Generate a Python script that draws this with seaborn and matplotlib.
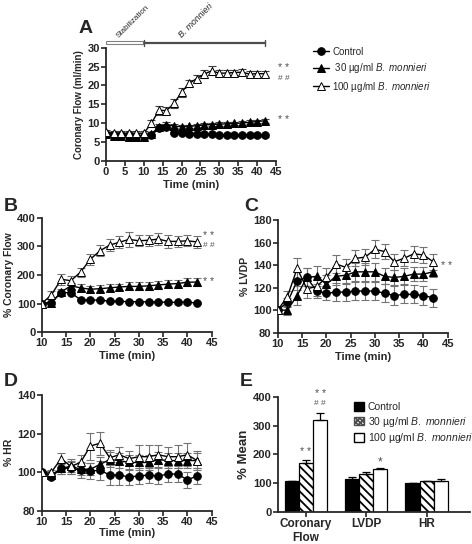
import matplotlib
matplotlib.use("Agg")
import matplotlib.pyplot as plt
from matplotlib.patches import Patch, Rectangle
from matplotlib.lines import Line2D
import seaborn as sns
import pandas as pd
import numpy as np

# ---- data ----
groups = ["Control", "30 µg/ml B. monnieri", "100 µg/ml B. monnieri"]

# A: absolute coronary flow (ml/min), 0-42 min
t_a = list(range(0, 43, 2))
a_ctrl = [7.2, 6.9, 6.8, 6.7, 6.6, 6.6, 6.9, 8.6, 8.9, 7.4, 7.3, 7.2, 7.1, 7.0, 7.0, 6.9, 6.9, 6.8, 6.8, 6.7, 6.7, 6.7]
a_30 = [7.0, 6.6, 6.5, 6.3, 6.2, 6.2, 7.1, 9.0, 9.6, 9.2, 9.0, 9.1, 9.3, 9.5, 9.6, 9.7, 9.8, 9.9, 10.0, 10.2, 10.4, 10.6]
a_100 = [7.5, 7.4, 7.3, 7.3, 7.3, 7.3, 9.9, 13.4, 13.3, 15.2, 18.2, 20.5, 21.8, 23.0, 23.9, 23.2, 23.3, 23.4, 23.5, 23.0, 23.1, 23.1]
a_ctrl_err = [0.3, 0.3, 0.3, 0.3, 0.3, 0.3, 0.3, 0.5, 0.5, 0.3, 0.3, 0.3, 0.3, 0.3, 0.3, 0.3, 0.3, 0.3, 0.3, 0.3, 0.3, 0.3]
a_30_err = [0.4, 0.4, 0.4, 0.4, 0.4, 0.4, 0.5, 0.8, 0.8, 0.5, 0.5, 0.5, 0.5, 0.5, 0.5, 0.5, 0.5, 0.5, 0.5, 0.5, 0.5, 0.5]
a_100_err = [0.6, 0.5, 0.5, 0.5, 0.5, 0.5, 1.0, 1.2, 1.0, 1.2, 1.2, 1.0, 1.0, 1.0, 1.2, 0.8, 0.8, 0.8, 0.8, 0.8, 0.8, 0.8]

# B-D: % of baseline, 10-42 min
t_p = list(range(10, 43, 2))
b_ctrl = [100, 103, 138, 138, 113, 112, 112, 108, 108, 106, 106, 106, 105, 104, 104, 104, 102]
b_30 = [100, 103, 140, 162, 155, 150, 152, 155, 158, 160, 160, 162, 165, 168, 170, 175, 175]
b_100 = [100, 130, 185, 180, 210, 255, 285, 305, 315, 325, 320, 322, 326, 318, 318, 320, 316]
b_ctrl_err = [0, 3, 6, 6, 4, 4, 4, 4, 4, 4, 4, 4, 4, 4, 4, 4, 4]
b_30_err = [0, 5, 10, 10, 12, 12, 12, 12, 12, 14, 14, 14, 14, 14, 14, 14, 14]
b_100_err = [0, 14, 20, 15, 16, 20, 20, 22, 22, 26, 20, 20, 22, 22, 20, 20, 20]

c_ctrl = [100, 107, 126, 129, 117, 115, 116, 116, 117, 117, 117, 115, 113, 114, 114, 113, 111]
c_30 = [100, 100, 113, 129, 130, 123, 130, 131, 134, 134, 134, 130, 129, 130, 132, 132, 134]
c_100 = [100, 112, 137, 119, 121, 129, 141, 138, 146, 147, 154, 152, 143, 146, 150, 149, 143]
c_ctrl_err = [0, 4, 8, 8, 6, 6, 8, 8, 8, 8, 8, 8, 8, 8, 8, 8, 8]
c_30_err = [0, 4, 8, 8, 9, 8, 8, 8, 8, 8, 8, 7, 7, 7, 6, 6, 5]
c_100_err = [0, 5, 9, 8, 8, 8, 8, 7, 7, 7, 8, 7, 7, 7, 7, 7, 7]

d_ctrl = [100, 97.5, 102, 102, 101, 100.5, 101, 98.5, 98.5, 97.5, 98, 98.5, 98, 99, 99, 96, 98]
d_30 = [100, 98.5, 102, 103, 101.5, 101.5, 104, 106.5, 106, 105, 105, 105, 106.5, 106, 106, 106, 106]
d_100 = [100, 100, 107, 103, 105, 113.5, 115, 107.5, 109, 107, 108, 108, 109, 108, 108, 109, 106]
d_ctrl_err = [0, 1, 3, 3, 4, 4, 5, 5, 5, 4, 4, 4, 4, 4, 4, 4, 4]
d_30_err = [0, 1, 3, 3, 3, 3, 4, 4, 4, 4, 4, 4, 4, 4, 4, 4, 4]
d_100_err = [0, 1, 3, 4, 4, 7, 6, 4, 4, 4, 6, 6, 5, 5, 6, 6, 5]

# E: mean % values
measures = ["Coronary\nFlow", "LVDP", "HR"]
e_ctrl = [107, 116, 100]
e_30 = [170, 133, 107]
e_100 = [322, 148, 109]
e_ctrl_err = [2, 7, 2]
e_30_err = [12, 5, 2]
e_100_err = [22, 6, 4]

# ---- style ----
sns.set_style("ticks")
plt.rcParams["font.family"] = ["Liberation Sans", "DejaVu Sans"]
plt.rcParams["mathtext.fontset"] = "custom"
plt.rcParams["mathtext.rm"] = "Liberation Sans"
plt.rcParams["mathtext.it"] = "Liberation Sans:italic"
plt.rcParams["hatch.linewidth"] = 1.3
plt.rcParams["axes.linewidth"] = 1.3

fig = plt.figure(figsize=(4.72, 5.44), dpi=100)
W, H = 472, 544
TICK = 8


def add_ax(x0, x1, ytop, ybot):
    return fig.add_axes([x0 / W, 1 - ybot / H, (x1 - x0) / W, (ybot - ytop) / H])


marker_styles = [
    dict(marker="o", markerfacecolor="black"),
    dict(marker="^", markerfacecolor="black"),
    dict(marker="^", markerfacecolor="white"),
]


def time_panel(ax, t, series, errs, ecol):
    for s, e, ms in zip(series, errs, marker_styles):
        ax.errorbar(t, s, yerr=e, fmt="none", ecolor=ecol, elinewidth=0.8,
                    capsize=3, capthick=0.8, zorder=2)
        sns.lineplot(x=t, y=s, ax=ax, color="black", linewidth=1.0,
                     markersize=5.5, markeredgecolor="black",
                     markeredgewidth=0.7, zorder=3, **ms)
    sns.despine(ax=ax)
    ax.tick_params(labelsize=TICK, width=1.2, length=3.5, pad=1)


def bold_ticks(ax):
    for lab in ax.get_xticklabels() + ax.get_yticklabels():
        lab.set_fontweight("bold")


def label_text(ax, text, size=7.5):
    ax.set_ylabel(text, fontsize=size, fontweight="bold", labelpad=2)


STAR = dict(fontsize=7.5, color="0.3", va="center", clip_on=False)
HASH = dict(fontsize=6, color="0.3", va="center", clip_on=False)

# ---- A ----
axA = add_ax(106, 276, 47.7, 160.7)
time_panel(axA, t_a, [a_ctrl, a_30, a_100], [a_ctrl_err, a_30_err, a_100_err], "0.25")
axA.set_xlim(0, 45)
axA.set_ylim(0, 30)
axA.set_xticks(range(0, 46, 5))
axA.set_yticks(range(0, 31, 5))
bold_ticks(axA)
label_text(axA, "Coronary Flow (ml/min)", 7)
axA.set_xlabel("Time (min)", fontsize=8, fontweight="bold", labelpad=2)
# protocol bars
axA.add_patch(Rectangle((0, 30.9), 10, 0.8, facecolor="white", edgecolor="0.5",
                        linewidth=0.8, clip_on=False))
axA.plot([10, 42], [31.3, 31.3], color="0.3", linewidth=1.6, clip_on=False)
axA.plot([10, 10], [30.5, 32.1], color="0.3", linewidth=1.0, clip_on=False)
axA.plot([42, 42], [30.5, 32.1], color="0.3", linewidth=1.0, clip_on=False)
axA.text(3.6, 32.2, "Stabilization", rotation=45, fontsize=5.8, ha="left", va="bottom",
         rotation_mode="anchor")
axA.text(20.5, 32.2, "B. monnieri", rotation=45, fontsize=6.3, style="italic", ha="left",
         va="bottom", rotation_mode="anchor")
axA.text(45.5, 24.6, "* *", **STAR)
axA.text(45.5, 21.9, "# #", **HASH)
axA.text(45.5, 10.9, "* *", **STAR)

leg_labels = ["Control", r" 30 µg/ml $\it{B.\ monnieri}$", r"100 µg/ml $\it{B.\ monnieri}$"]
handles = [Line2D([], [], color="black", linewidth=1.0, markersize=5.5,
                  markeredgecolor="black", markeredgewidth=0.7, **ms) for ms in marker_styles]
fig.legend(handles, leg_labels, loc="upper left", bbox_to_anchor=(309 / W, 1 - 43 / H),
           frameon=False, fontsize=7, handlelength=1.7, handletextpad=0.3,
           labelspacing=0.45, borderaxespad=0)

# ---- B ----
axB = add_ax(41.7, 211.7, 218, 332)
time_panel(axB, t_p, [b_ctrl, b_30, b_100], [b_ctrl_err, b_30_err, b_100_err], "0.45")
axB.set_xlim(10, 45)
axB.set_ylim(0, 400)
axB.set_xticks(range(10, 46, 5))
axB.set_yticks(range(0, 401, 100))
bold_ticks(axB)
label_text(axB, "% Coronary Flow", 7.5)
axB.set_xlabel("Time (min)", fontsize=8, fontweight="bold", labelpad=2)
axB.text(43.3, 338, "* *", **STAR)
axB.text(43.3, 305, "# #", **HASH)
axB.text(43.3, 177, "* *", **STAR)

# ---- C ----
axC = add_ax(277.7, 447.7, 220, 332.7)
time_panel(axC, t_p, [c_ctrl, c_30, c_100], [c_ctrl_err, c_30_err, c_100_err], "0.45")
axC.set_xlim(10, 45)
axC.set_ylim(80, 180)
axC.set_xticks(range(10, 46, 5))
axC.set_yticks(range(80, 181, 20))
bold_ticks(axC)
label_text(axC, "% LVDP", 7.5)
axC.set_xlabel("Time (min)", fontsize=8, fontweight="bold", labelpad=2)
axC.text(43.6, 139, "* *", **STAR)

# ---- D ----
axD = add_ax(41.7, 211.7, 395, 510.7)
time_panel(axD, t_p, [d_ctrl, d_30, d_100], [d_ctrl_err, d_30_err, d_100_err], "0.45")
axD.set_xlim(10, 45)
axD.set_ylim(80, 140)
axD.set_xticks(range(10, 46, 5))
axD.set_yticks(range(80, 141, 20))
bold_ticks(axD)
label_text(axD, "% HR", 7.5)
axD.set_xlabel("Time (min)", fontsize=8, fontweight="bold", labelpad=1)

# ---- E ----
axE = add_ax(277.7, 470, 397.3, 511.7)
df_e = pd.DataFrame({
    "measure": measures * 3,
    "group": [g for g in groups for _ in measures],
    "value": e_ctrl + e_30 + e_100,
})
sns.barplot(data=df_e, x="measure", y="value", hue="group", hue_order=groups,
            palette=["black", "white", "white"], edgecolor="black", linewidth=0.9,
            width=0.7, errorbar=None, legend=False, ax=axE)
for bar in axE.containers[1]:
    bar.set_hatch(r"\\\\")
for cont, errs in zip(axE.containers, [e_ctrl_err, e_30_err, e_100_err]):
    for bar, e in zip(cont, errs):
        axE.errorbar(bar.get_x() + bar.get_width() / 2, bar.get_height(),
                     yerr=[[0], [e]], fmt="none", ecolor="black", elinewidth=0.9,
                     capsize=3, capthick=0.9, zorder=3)
axE.set_xlim(-0.47, 2.72)
axE.set_ylim(0, 400)
axE.set_yticks(range(0, 401, 100))
axE.set_xlabel("")
axE.set_ylabel("% Mean", fontsize=9.5, fontweight="bold", labelpad=2)
sns.despine(ax=axE)
axE.tick_params(labelsize=TICK, width=1.2, length=3.5, pad=1)
bold_ticks(axE)
for lab in axE.get_xticklabels():
    lab.set_fontsize(8.5)
axE.text(0.0, 207, "* *", ha="center", **STAR)
axE.text(0.233, 410, "* *", ha="center", **STAR)
axE.text(0.233, 378, "# #", ha="center", **HASH)
axE.text(1.233, 172, "*", ha="center", fontsize=8.5, color="0.3", va="center")
e_handles = [Patch(facecolor="black", edgecolor="black"),
             Patch(facecolor="white", edgecolor="0.3", hatch=r"\\\\\\\\//////"),
             Patch(facecolor="white", edgecolor="black")]
e_labels = ["Control", r"30 µg/ml $\it{B.\ monnieri}$", r"100 µg/ml $\it{B.\ monnieri}$"]
axE.legend(e_handles, e_labels, loc="upper left", bbox_to_anchor=(350 / W, 1 - 398 / H),
           bbox_transform=fig.transFigure, frameon=False, fontsize=7.5,
           handlelength=0.9, handleheight=0.9, handletextpad=0.4, labelspacing=0.25,
           borderaxespad=0)

# panel letters
for letter, x, y in [("A", 79, 33), ("B", 4, 211), ("C", 244, 211), ("D", 4, 386), ("E", 240, 386)]:
    fig.text(x / W, 1 - y / H, letter, fontsize=14, fontweight="bold", ha="left", va="baseline")

fig.savefig("out.png", dpi=100)
